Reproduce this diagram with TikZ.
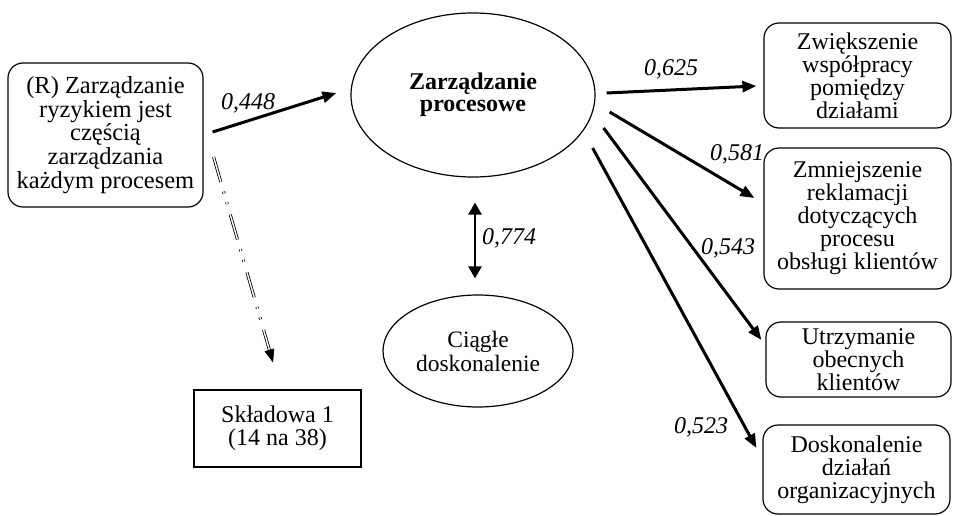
\documentclass[tikz,border=0pt]{standalone}
\usepackage{fontspec}
\setmainfont{Liberation Serif}
\usetikzlibrary{arrows.meta,calc,shapes.geometric}
\begin{document}
\begin{tikzpicture}[x=1pt,y=-1pt,
  txt/.style={font=\fontsize{24}{23}\selectfont, align=center},
  rbox/.style={draw, line width=1.2pt, rounded corners=15pt, txt, inner sep=0pt},
  sbox/.style={draw, line width=1.2pt, txt, inner sep=0pt},
  oval/.style={draw, ellipse, line width=1.2pt, inner sep=0pt, txt},
  link/.style={line width=3pt, -{Triangle[length=14pt,width=11pt]}},
  coef/.style={font=\fontsize{24}{23}\selectfont\itshape, inner sep=0pt}
]
\useasboundingbox (0,0) rectangle (953,516);

% latent and observed variables
\node[rbox, font=\fontsize{24.5}{23.8}\selectfont, minimum width=195pt, minimum height=144pt] (L) at (105.5,135)
  {(R) Zarządzanie\\ryzykiem jest\\częścią\\zarządzania\\każdym procesem};
\node[oval, font=\fontsize{24}{22}\selectfont\bfseries, minimum width=244pt, minimum height=164pt] (P) at (473,95)
  {Zarządzanie\\procesowe};
\node[oval, font=\fontsize{23.5}{24}\selectfont, minimum width=190pt, minimum height=112pt] (C) at (478,351)
  {Ciągłe\\doskonalenie};
\node[sbox, minimum width=167pt, minimum height=77pt] (S) at (277.5,428.5)
  {Składowa 1\\(14 na 38)};

\node[rbox, minimum width=187pt, minimum height=105pt] (R1) at (857.5,75.5)
  {Zwiększenie\\współpracy\\pomiędzy\\działami};
\node[rbox, minimum width=187pt, minimum height=141pt] (R2) at (857.5,218.5)
  {Zmniejszenie\\reklamacji\\dotyczących\\procesu\\obsługi klientów};
\node[rbox, minimum width=185pt, minimum height=75pt] (R3) at (858.5,359.5)
  {Utrzymanie\\obecnych\\klientów};
\node[rbox, minimum width=187pt, minimum height=89pt] (R4) at (856.5,469.5)
  {Doskonalenie\\działań\\organizacyjnych};

% path coefficients
\node[coef] (k1) at (248,103) {0,448};
\node[coef] (k2) at (671,69) {0,625};
\node[coef] (k3) at (737,154) {0,581};
\node[coef] (k4) at (728,248) {0,543};
\node[coef] (k5) at (701,427) {0,523};
\node[coef] (k6) at (509,238) {0,774};

% paths
\draw[link] ($(L.east)+(9,-3)$) -- ($(P.west)+(-14,-2)$);
\draw[link] ($(P.east)+(11,-2)$) -- ($(R1.west)+(-7,10.5)$);
\draw[link] ($(P.east)+(14,17)$) -- ($(R2.west)+(-9,-20.5)$);
\draw[link] ($(P.east)+(8,33)$) -- ($(R3.west)+(-4,-19.5)$);
\draw[link] ($(P.east)+(-3,53)$) -- ($(R4.west)+(-6,-21.5)$);
\draw[line width=2.5pt, {Triangle[length=12pt,width=13pt]}-{Triangle[length=12pt,width=13pt]}]
  ($(P.south)+(2,25)$) -- ($(C.north)+(-3,-16)$);

% dash-dotted double connector to the component
\coordinate (dA) at ($(L.east)+(10,22)$);
\coordinate (dB) at ($(S.north)+(-4.5,-27)$);
\draw[line width=0.8pt, double distance=1.4pt,
      dash pattern=on 26pt off 10pt on 2pt off 9pt on 2pt off 11pt, shorten >=13pt] (dA) -- (dB);
\draw[-{Triangle[length=13pt,width=10pt]}, line width=0.5pt] ($(dB)!13pt!(dA)$) -- (dB);
\end{tikzpicture}
\end{document}
